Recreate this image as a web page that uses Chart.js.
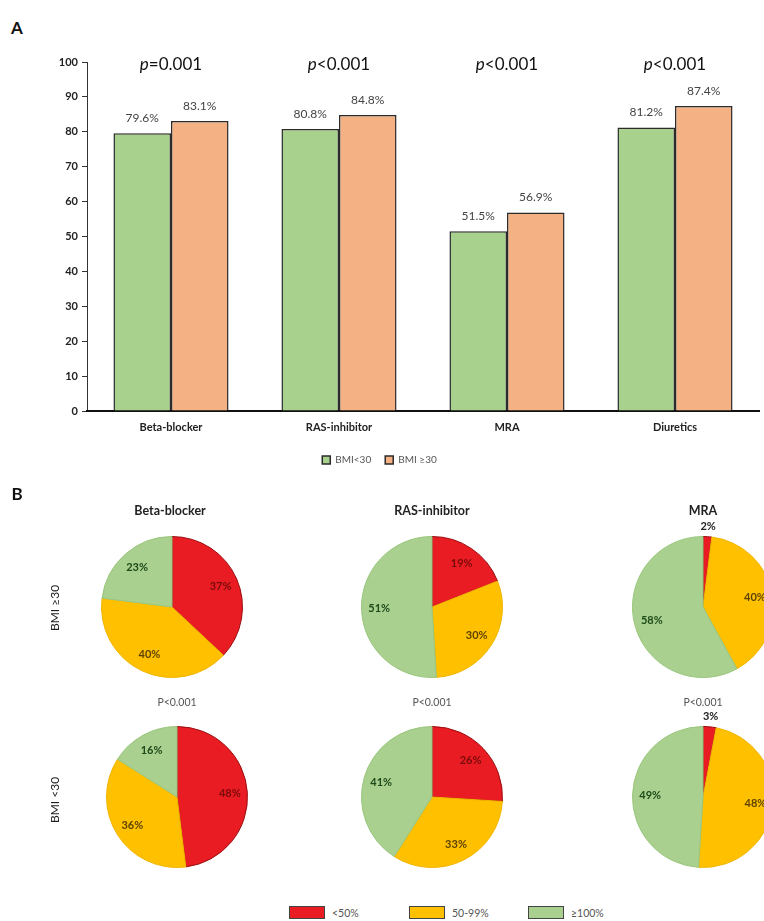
<!DOCTYPE html>
<html>
<head>
<meta charset="utf-8">
<script src="https://cdn.jsdelivr.net/npm/chart.js@4.4.1/dist/chart.umd.min.js"></script>
<style>
  html, body { margin: 0; padding: 0; background: #fff; }
  #page { position: relative; width: 764px; height: 921px; overflow: hidden; font-family: Lato, 'Open Sans', sans-serif; color: #222; }
  .abs { position: absolute; transform: translate(-50%, -50%); white-space: nowrap; }
  .panel { font-weight: bold; font-size: 17px; color: #111; }
  .pieTitle { font-weight: bold; font-size: 12.5px; color: #222; }
  .pval { font-size: 10.5px; color: #555; }
  .bmi { font-size: 12px; color: #222; transform: translate(-50%, -50%) rotate(-90deg); }
  .legItem { position: absolute; top: 906px; font-size: 10.5px; color: #555; display: flex; align-items: center; }
  .legItem span.box { display: inline-block; width: 34px; height: 11px; margin-right: 7px; border: 1px solid #444; }
  canvas { position: absolute; }
</style>
</head>
<body>
<div id="page">
  <div class="abs panel" style="left:17px; top:27px;">A</div>
  <canvas id="barChart" style="left:0; top:0;" width="764" height="490"></canvas>

  <div class="abs panel" style="left:17px; top:493px;">B</div>
  <div id="pies"></div>
  <div id="pieLegend"></div>
</div>

<script>
// ---- panel A data ----
const drugs = ['Beta-blocker', 'RAS-inhibitor', 'MRA', 'Diuretics'];
const bmiUnder30 = [79.6, 80.8, 51.5, 81.2];
const bmiOver30 = [83.1, 84.8, 56.9, 87.4];
const pValues = ['p=0.001', 'p<0.001', 'p<0.001', 'p<0.001'];
const seriesNames = ['BMI<30', 'BMI \u226530'];

// ---- panel B data (share of target dose: <50%, 50-99%, >=100%) ----
const doseLevels = ['<50%', '50-99%', '\u2265100%'];
const pieDrugs = ['Beta-blocker', 'RAS-inhibitor', 'MRA'];
const pieOver30 = [[37, 40, 23], [19, 30, 51], [2, 40, 58]];
const pieUnder30 = [[48, 36, 16], [26, 33, 41], [3, 48, 49]];
const piePValues = ['P<0.001', 'P<0.001', 'P<0.001'];
const rowNames = ['BMI \u226530', 'BMI <30'];

const doseColors = ['#e81c22', '#ffc000', '#a9d08e'];
const doseBorders = ['#9a0d10', '#f0b400', '#9ac67d'];
const doseText = ['#7a0b0b', '#5e4300', '#1d4a1a'];

const barLabels = {
    id: 'barLabels',
    afterDatasetsDraw(chart) {
        const ctx = chart.ctx;
        ctx.save();
        ctx.font = '12px Lato';
        ctx.fillStyle = '#444';
        ctx.textAlign = 'center';
        ctx.textBaseline = 'bottom';
        chart.data.datasets.forEach((ds, i) => {
            chart.getDatasetMeta(i).data.forEach((bar, j) => {
                ctx.fillText(ds.data[j].toFixed(1) + '%', bar.x, bar.y - 9);
            });
        });
        // p-values above each group, italic p
        const xs = chart.scales.x;
        ctx.fillStyle = '#111';
        ctx.textAlign = 'left';
        ctx.textBaseline = 'middle';
        pValues.forEach((p, j) => {
            const cx = xs.getPixelForValue(j);
            const head = p.charAt(0), rest = p.slice(1);
            ctx.font = 'italic 17px Lato';
            const w1 = ctx.measureText(head).width;
            ctx.font = '17px Lato';
            const w2 = ctx.measureText(rest).width;
            const x0 = cx - (w1 + w2) / 2;
            ctx.font = 'italic 17px Lato';
            ctx.fillText(head, x0, 65);
            ctx.font = '17px Lato';
            ctx.fillText(rest, x0 + w1, 65);
        });
        ctx.restore();
    }
};

new Chart('barChart', {
    type: 'bar',
    data: {
        labels: drugs,
        datasets: [
            {
                label: seriesNames[0],
                data: bmiUnder30,
                backgroundColor: '#a9d18e',
                borderColor: '#2b2b2b',
                borderWidth: 1.5
            },
            {
                label: seriesNames[1],
                data: bmiOver30,
                backgroundColor: '#f4b183',
                borderColor: '#2b2b2b',
                borderWidth: 1.5
            }
        ]
    },
    options: {
        responsive: false,
        animation: false,
        layout: { padding: { top: 62, right: 5, left: 0, bottom: 15 } },
        datasets: { bar: { categoryPercentage: 0.685, barPercentage: 1 } },
        plugins: {
            tooltip: { enabled: false },
            legend: {
                position: 'bottom',
                labels: {
                    boxWidth: 8,
                    boxHeight: 8,
                    padding: 14,
                    color: '#555',
                    font: { family: 'Lato', size: 10 }
                }
            }
        },
        scales: {
            y: {
                min: 0,
                max: 100,
                ticks: { stepSize: 10, padding: 4, color: '#222', font: { family: 'Lato', size: 11, weight: 'bold' } },
                grid: { drawOnChartArea: false, drawTicks: true, tickLength: 5, color: '#333' },
                border: { display: true, color: '#333', width: 1 },
                afterFit: (scale) => { scale.width = 87; }
            },
            x: {
                ticks: { padding: 10, color: '#222', font: { family: 'Lato', size: 11, weight: 'bold' } },
                grid: { display: false, drawTicks: false },
                border: { display: true, color: '#111', width: 2 },
                afterFit: (scale) => { scale.height = 30; }
            }
        }
    },
    plugins: [barLabels]
});

// ---- pies ----
const pieLabels = {
    id: 'pieLabels',
    afterDatasetsDraw(chart) {
        const ctx = chart.ctx;
        const ds = chart.data.datasets[0];
        ctx.save();
        ctx.font = 'bold 11px Lato';
        ctx.textAlign = 'center';
        ctx.textBaseline = 'middle';
        chart.getDatasetMeta(0).data.forEach((arc, i) => {
            const v = ds.data[i];
            const mid = (arc.startAngle + arc.endAngle) / 2;
            const r = v < 5 ? arc.outerRadius * 1.15 : arc.outerRadius * 0.75;
            ctx.fillStyle = v < 5 ? '#222' : doseText[i];
            ctx.fillText(v + '%', arc.x + Math.cos(mid) * r, arc.y + Math.sin(mid) * r);
        });
        ctx.restore();
    }
};

const pieBox = document.getElementById('pies');
const colX = [172, 432, 703];
const rowY = [607, 797];
const titleY = 510;
const pY = 702;

const addText = (cls, text, x, y) => {
    const d = document.createElement('div');
    d.className = 'abs ' + cls;
    d.style.left = x + 'px';
    d.style.top = y + 'px';
    d.textContent = text;
    pieBox.appendChild(d);
};

const renderPie = (values, cx, cy, id) => {
    const c = document.createElement('canvas');
    c.id = id;
    c.width = 180;
    c.height = 180;
    c.style.left = (cx - 90) + 'px';
    c.style.top = (cy - 90) + 'px';
    pieBox.appendChild(c);
    new Chart(c, {
        type: 'pie',
        data: {
            labels: doseLevels,
            datasets: [{
                data: values,
                backgroundColor: doseColors,
                borderColor: doseBorders,
                borderWidth: 1
            }]
        },
        options: {
            responsive: false,
            animation: false,
            layout: { padding: 19 },
            plugins: { legend: { display: false }, tooltip: { enabled: false } }
        },
        plugins: [pieLabels]
    });
};

pieDrugs.forEach((name, i) => {
    addText('pieTitle', name, colX[i] - (i === 0 ? 2 : 0), titleY);
    renderPie(pieOver30[i], colX[i], rowY[0], 'pieO' + i);
    addText('pval', piePValues[i], colX[i] + (i === 0 ? 5 : 0), pY);
    renderPie(pieUnder30[i], colX[i] + (i === 0 ? 5 : 0), rowY[1], 'pieU' + i);
});
addText('bmi', rowNames[0], 54, 608);
addText('bmi', rowNames[1], 54, 800);

// ---- pie legend ----
const legBox = document.getElementById('pieLegend');
const legX = [289, 409, 528];
doseLevels.forEach((lvl, i) => {
    const d = document.createElement('div');
    d.className = 'legItem';
    d.style.left = legX[i] + 'px';
    d.innerHTML = '<span class="box" style="background:' + doseColors[i] + '"></span>' + lvl;
    legBox.appendChild(d);
});
</script>
</body>
</html>
